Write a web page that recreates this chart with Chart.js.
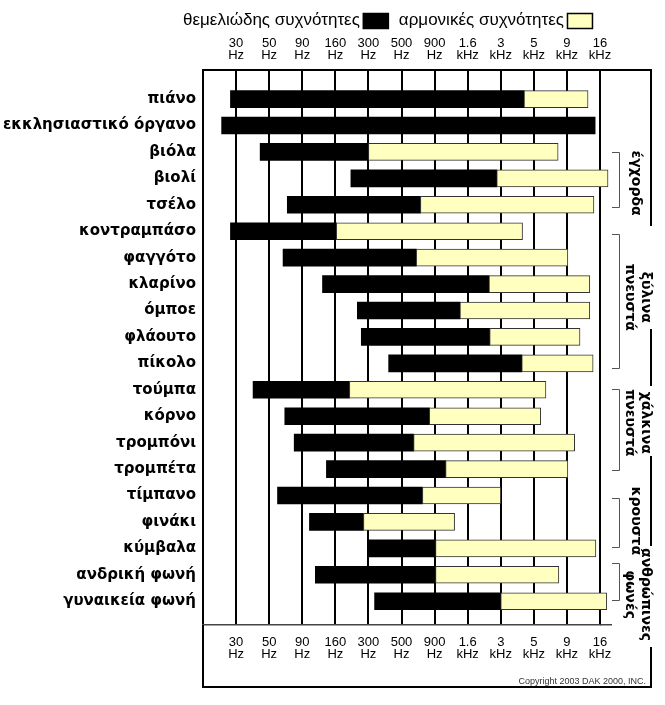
<!DOCTYPE html>
<html><head><meta charset="utf-8">
<script src="https://cdn.jsdelivr.net/npm/chart.js@4/dist/chart.umd.min.js"></script>
<style>html,body{margin:0;padding:0;background:#fff;} canvas{display:block;}</style>
</head><body>
<canvas id="c" width="665" height="705"></canvas>
<script>
// ---------- data ----------
const instruments = ['πιάνο','εκκλησιαστικό όργανο','βιόλα','βιολί','τσέλο','κοντραμπάσο','φαγγότο','κλαρίνο','όμποε','φλάουτο','πίκολο','τούμπα','κόρνο','τρομπόνι','τρομπέτα','τίμπανο','φινάκι','κύμβαλα','ανδρική φωνή','γυναικεία φωνή'];
// frequencies in Hz
const fundamentalLow  = [27.5, 24, 43.5, 215, 69, 27.5, 64, 128, 243, 262, 410, 39, 66, 78, 137, 58, 102, 295, 113, 330];
const fundamentalHigh = [4300, 14700, 300, 2780, 700, 163, 650, 2400, 1400, 2430, 4150, 209, 820, 620, 1090, 725, 273, 915, 915, 3000];
const harmonicHigh    = [13000, null, 7700, 18400, 14400, 4200, 9150, 13400, 13400, 11300, 14200, 6200, 5650, 10300, 9150, 3000, 1275, 14900, 7800, 18000];

const tickHz = [30, 50, 90, 160, 300, 500, 900, 1600, 3000, 5000, 9000, 16000];
const tickNumbers = ['30','50','90','160','300','500','900','1.6','3','5','9','16'];
const tickUnits = ['Hz','Hz','Hz','Hz','Hz','Hz','Hz','kHz','kHz','kHz','kHz','kHz'];

const seriesNames = ['θεμελιώδης συχνότητες', 'αρμονικές συχνότητες'];
const seriesColors = ['#000000', '#FFFFC0'];

const groupLines = [['έγχορδα'], ['ξύλινα','πνευστά'], ['χάλκινα','πνευστά'], ['κρουστά'], ['ανθρώπινες','φωνές']];
const groupFrom = [2.0, 5.1, 10.97, 15.09, 17.55];
const groupTo   = [4.1, 10.18, 14.03, 16.95, 18.95];
const groupMid  = [3.18, 7.5, 12.25, 15.96, 18.75];
const copyrightText = 'Copyright 2003 DAK 2000, INC.';

// frequency -> position on the evenly spaced tick ladder
function hzToPos(f) {
  let i = 0;
  while (i < tickHz.length - 2 && f > tickHz[i + 1]) i++;
  return i + Math.log(f / tickHz[i]) / Math.log(tickHz[i + 1] / tickHz[i]);
}

const fundData = instruments.map((n, i) => ({ y: i, x: [hzToPos(fundamentalLow[i]), hzToPos(fundamentalHigh[i])] }));
const harmData = [];
instruments.forEach((n, i) => {
  if (harmonicHigh[i] != null) harmData.push({ y: i, x: [hzToPos(fundamentalHigh[i]), hzToPos(harmonicHigh[i])] });
});

const tickIdx = tickHz.map((h, i) => i);
const xTicks = {
  autoSkip: false, maxRotation: 0, minRotation: 0, color: '#000',
  font: { family: '"Liberation Sans", Arial, sans-serif', size: 13, lineHeight: '11.5px' },
  callback: (v) => [tickNumbers[v], tickUnits[v]]
};

const extras = {
  id: 'extras',
  afterDraw(chart) {
    const ctx = chart.ctx;
    const y = chart.scales.y;
    ctx.save();
    // legend
    ctx.font = '17px "Liberation Sans", Arial, sans-serif';
    ctx.textBaseline = 'alphabetic';
    ctx.textAlign = 'left';
    let lx = 183;
    chart.data.datasets.forEach((ds) => {
      ctx.fillStyle = '#000';
      ctx.fillText(ds.label, lx, 25);
      lx += ctx.measureText(ds.label).width + 3;
      ctx.fillStyle = ds.backgroundColor;
      ctx.fillRect(lx, 13, 26, 16);
      ctx.strokeStyle = '#000';
      ctx.lineWidth = 1.5;
      ctx.strokeRect(lx + 0.5, 13.5, 25, 15);
      lx += 26 + 10;
    });
    // outer frame
    ctx.strokeStyle = '#000';
    ctx.lineWidth = 2;
    ctx.beginPath();
    ctx.moveTo(600, 70); ctx.lineTo(652, 70);
    ctx.moveTo(203, 625); ctx.lineTo(203, 688);
    ctx.moveTo(202, 687); ctx.lineTo(652, 687);
    const segs = [[69, 226], [329, 386], [456, 546], [647, 688]];
    segs.forEach(s => { ctx.moveTo(651, s[0]); ctx.lineTo(651, s[1]); });
    ctx.stroke();
    // bottom axis line continues a little to the right
    ctx.strokeStyle = '#444';
    ctx.lineWidth = 1.5;
    ctx.beginPath();
    ctx.moveTo(600, 624.75); ctx.lineTo(612, 624.75);
    ctx.stroke();
    // brackets
    ctx.strokeStyle = '#555';
    ctx.lineWidth = 1;
    groupFrom.forEach((f, i) => {
      const a = Math.round(y.getPixelForValue(f)) + 0.5, b = Math.round(y.getPixelForValue(groupTo[i])) + 0.5;
      ctx.beginPath();
      ctx.moveTo(612, a); ctx.lineTo(619.5, a); ctx.lineTo(619.5, b); ctx.lineTo(612, b);
      ctx.stroke();
    });
    // group labels (rotated)
    ctx.font = 'bold 14px "DejaVu Sans", sans-serif';
    ctx.textAlign = 'center';
    ctx.textBaseline = 'middle';
    ctx.fillStyle = '#000';
    groupLines.forEach((lines, i) => {
      const cy = y.getPixelForValue(groupMid[i]);
      const cx = lines.length === 1 ? 636 : 638;
      ctx.save();
      ctx.translate(cx, cy);
      ctx.rotate(Math.PI / 2);
      lines.forEach((t, k) => {
        const off = lines.length === 1 ? 0 : (k === 0 ? -8 : 8);
        ctx.fillText(t, 0, off);
      });
      ctx.restore();
    });
    // copyright
    ctx.font = '9px "Liberation Sans", Arial, sans-serif';
    ctx.textAlign = 'right';
    ctx.textBaseline = 'alphabetic';
    ctx.fillStyle = '#333';
    ctx.fillText(copyrightText, 646, 684);
    ctx.restore();
  }
};

new Chart(document.getElementById('c'), {
  type: 'bar',
  data: {
    datasets: [
      { label: seriesNames[0], data: fundData, backgroundColor: seriesColors[0], borderWidth: 0, barThickness: 17, grouped: false, clip: false, order: 2 },
      { label: seriesNames[1], data: harmData, backgroundColor: seriesColors[1], borderColor: '#333', borderWidth: 1, borderSkipped: false, barThickness: 17, grouped: false, clip: false, order: 1 }
    ]
  },
  options: {
    indexAxis: 'y',
    responsive: false,
    animation: false,
    devicePixelRatio: 1,
    layout: { padding: { left: 0, right: 65, top: 0, bottom: 0 } },
    plugins: { legend: { display: false }, tooltip: { enabled: false } },
    scales: {
      y: {
        type: 'linear', reverse: true, min: -1.1, max: 19.9, offset: false,
        afterBuildTicks: (s) => { s.ticks = instruments.map((n, i) => ({ value: i })); },
        afterFit: (s) => { s.width = 203; },
        grid: { display: false, drawTicks: false, offset: false },
        border: { display: true, color: '#000', width: 2 },
        ticks: {
          autoSkip: false, padding: 7, color: '#000',
          font: { family: '"DejaVu Sans", sans-serif', size: 15, weight: 'bold' },
          callback: (v) => instruments[v]
        }
      },
      x: {
        type: 'linear', position: 'bottom', min: -1, max: 11, offset: false,
        afterBuildTicks: (s) => { s.ticks = tickIdx.map(v => ({ value: v })); },
        afterFit: (s) => { s.height = 80; },
        grid: { display: true, color: '#000', lineWidth: 2, drawTicks: false },
        border: { display: true, color: '#444', width: 1.5 },
        ticks: Object.assign({}, xTicks, { padding: 12 })
      },
      x2: {
        type: 'linear', position: 'top', min: -1, max: 11, offset: false,
        afterBuildTicks: (s) => { s.ticks = tickIdx.map(v => ({ value: v })); },
        afterFit: (s) => { s.height = 70; },
        grid: { display: false, drawTicks: false },
        border: { display: true, color: '#000', width: 2 },
        ticks: Object.assign({}, xTicks, { padding: 9 })
      }
    }
  },
  plugins: [extras]
});
</script>
</body></html>
